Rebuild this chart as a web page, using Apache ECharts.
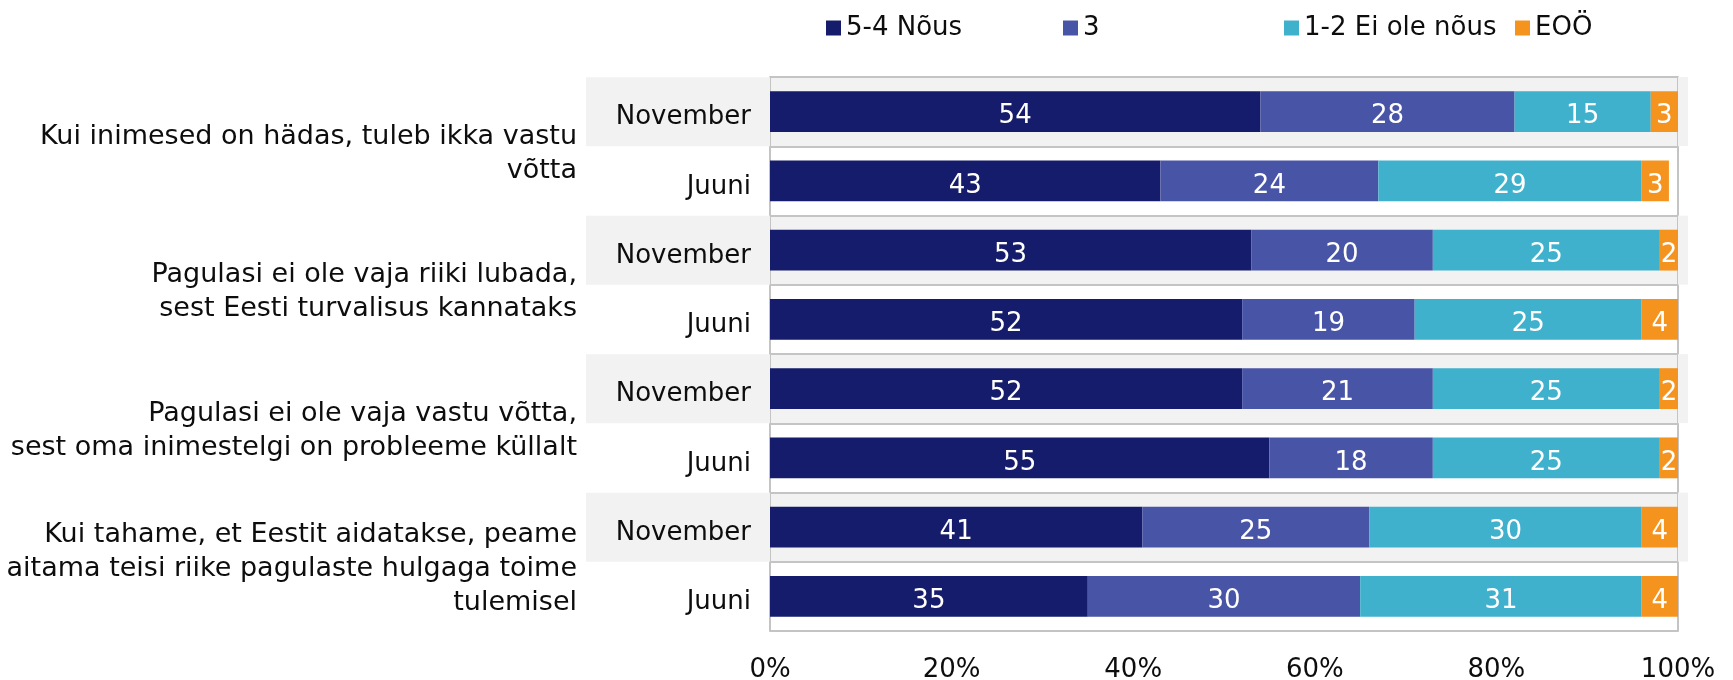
<!DOCTYPE html>
<html>
<head>
<meta charset="utf-8">
<script src="https://cdn.jsdelivr.net/npm/echarts@6/dist/echarts.min.js"></script>
<style>
  html, body { margin: 0; padding: 0; background: #fff; }
  #barChart { width: 1733px; height: 680px; }
</style>
</head>
<body>
<div id="barChart"></div>
<script>
// row labels (top to bottom)
var rows = ['November', 'Juuni', 'November', 'Juuni', 'November', 'Juuni', 'November', 'Juuni'];
// statement groups, 2 rows each
var groups = [
  'Kui inimesed on hädas, tuleb ikka vastu\nvõtta',
  'Pagulasi ei ole vaja riiki lubada,\nsest Eesti turvalisus kannataks',
  'Pagulasi ei ole vaja vastu võtta,\nsest oma inimestelgi on probleeme küllalt',
  'Kui tahame, et Eestit aidatakse, peame\naitama teisi riike pagulaste hulgaga toime\ntulemisel'
];
var seriesNames = ['5-4 Nõus', '3', '1-2 Ei ole nõus', 'EOÖ'];
var xTicks = [0, 20, 40, 60, 80, 100];

var agree = [54, 43, 53, 52, 52, 55, 41, 35];
var neutral = [28, 24, 20, 19, 21, 18, 25, 30];
var disagree = [15, 29, 25, 25, 25, 25, 30, 31];
var dontKnow = [3, 3, 2, 4, 2, 2, 4, 4];

var font = 'DejaVu Sans';
var ink = '#0d0d0d';
var lineGray = '#c4c4c4';
var band = '#f2f2f2';
var colors = ['#151c6b', '#4855a6', '#3fb1cd', '#f5931f'];

var myChart = echarts.init(document.getElementById('barChart'));

function barSeries(name, data, color) {
  return {
    name: name,
    type: 'bar',
    stack: 'total',
    yAxisIndex: 0,
    barWidth: '59%',
    data: data,
    itemStyle: { color: color },
    label: {
      show: true,
      position: 'inside',
      offset: [0, 5],
      color: '#fff',
      fontFamily: font,
      fontSize: 26
    },
    emphasis: { disabled: true }
  };
}

// one legend per item, so the items sit in evenly spaced slots like the original
var legendLeft = [821, 1058, 1279, 1510];
var legends = seriesNames.map(function (name, i) {
  return {
    left: legendLeft[i],
    top: 10,
    itemWidth: 15,
    itemHeight: 15,
    icon: 'rect',
    textStyle: { fontFamily: font, fontSize: 26, color: ink },
    data: [name]
  };
});

myChart.setOption({
  animation: false,
  textStyle: { fontFamily: font },
  legend: legends,
  grid: { left: 770, right: 55, top: 77, bottom: 49, outerBoundsMode: 'none' },
  xAxis: {
    type: 'value',
    min: xTicks[0],
    max: xTicks[xTicks.length - 1],
    interval: 20,
    axisLine: { show: false },
    axisTick: { show: false },
    splitLine: { show: false },
    axisLabel: {
      formatter: '{value}%',
      fontFamily: font,
      fontSize: 26,
      color: ink,
      margin: 26
    }
  },
  yAxis: [
    {
      type: 'category',
      data: rows,
      inverse: true,
      position: 'left',
      axisLine: { show: true, lineStyle: { color: lineGray, width: 2 } },
      axisTick: { show: false },
      splitLine: { show: true, interval: 0, lineStyle: { color: lineGray, width: 2 } },
      splitArea: { show: true, interval: 0, areaStyle: { color: [band, '#ffffff'] } },
      axisLabel: {
        interval: 0,
        margin: 0,
        formatter: function (v) {
          return v === 'November' ? '{n|' + v + '}' : '{j|' + v + '}';
        },
        rich: {
          n: {
            width: 165, height: 57, align: 'right', padding: [12, 19, 0, 0],
            backgroundColor: band, fontFamily: font, fontSize: 26, color: ink
          },
          j: {
            width: 165, height: 57, align: 'right', padding: [12, 19, 0, 0],
            fontFamily: font, fontSize: 26, color: ink
          }
        }
      }
    },
    {
      type: 'category',
      data: rows,
      inverse: true,
      position: 'right',
      axisLine: { show: true, lineStyle: { color: lineGray, width: 2 } },
      axisTick: { show: false },
      axisLabel: {
        interval: 0,
        margin: 0,
        formatter: function (v) {
          return v === 'November' ? '{n| }' : '{j| }';
        },
        rich: {
          n: { width: 10, height: 69, backgroundColor: band },
          j: { width: 10, height: 69 }
        }
      }
    },
    {
      type: 'category',
      data: groups,
      inverse: true,
      position: 'left',
      axisLine: { show: false },
      axisTick: { show: false },
      splitLine: { show: false },
      axisLabel: {
        interval: 0,
        margin: 193,
        align: 'right',
        // small empty first line pushes the text block down a little
        formatter: function (v) {
          return '{s| }\n' + v;
        },
        fontFamily: font,
        fontSize: 27,
        lineHeight: 34,
        color: ink,
        rich: {
          s: { fontSize: 1, lineHeight: 15, height: 15 }
        }
      }
    }
  ],
  series: [
    barSeries(seriesNames[0], agree, colors[0]),
    barSeries(seriesNames[1], neutral, colors[1]),
    barSeries(seriesNames[2], disagree, colors[2]),
    barSeries(seriesNames[3], dontKnow, colors[3])
  ]
});
</script>
</body>
</html>
